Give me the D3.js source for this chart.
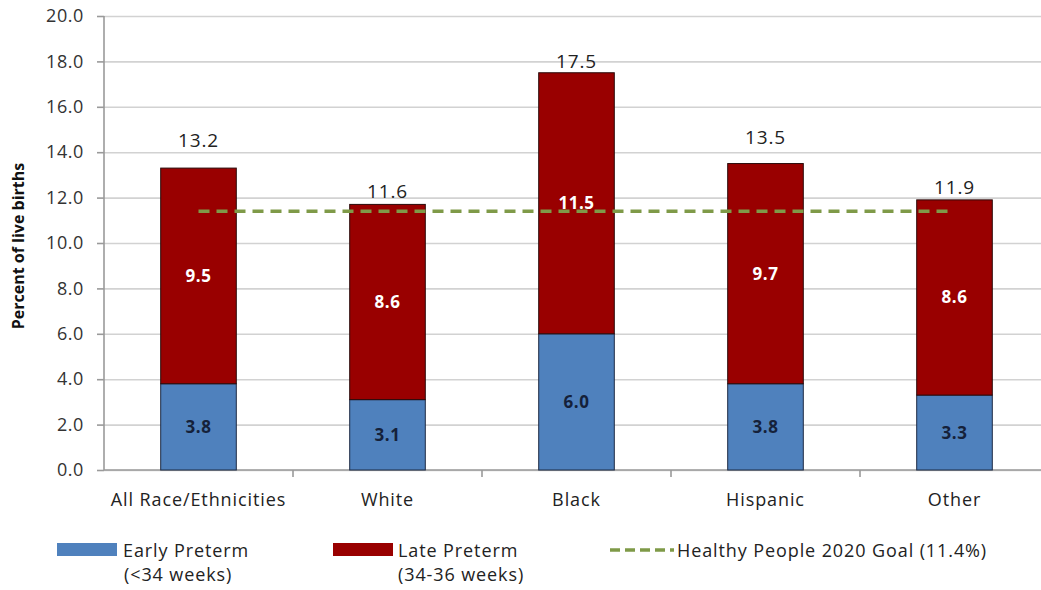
<!DOCTYPE html>
<html lang="en">
<head>
<meta charset="utf-8">
<title>Preterm births by race/ethnicity</title>
<script src="https://cdn.jsdelivr.net/npm/d3@7/dist/d3.min.js"></script>
<style>
  body { margin: 0; background: #fff; }
  svg text { font-family: "Open Sans", "DejaVu Sans", sans-serif; }
</style>
</head>
<body>
<svg width="1041" height="590"></svg>
<script>
// data
var categories = ["All Race/Ethnicities", "White", "Black", "Hispanic", "Other"];
var earlyPreterm = [3.8, 3.1, 6.0, 3.8, 3.3];
var latePreterm = [9.5, 8.6, 11.5, 9.7, 8.6];
var totalLabels = ["13.2", "11.6", "17.5", "13.5", "11.9"];
var goal = 11.4;
var yTicks = [0, 2, 4, 6, 8, 10, 12, 14, 16, 18, 20];

// layout only: how far above each bar top the total label baseline sits (px)
var totalLabelGap = [21, 6, 5, 20, 6];

var svg = d3.select("svg");
var plotLeft = 104, plotRight = 1049, plotTop = 16, plotBottom = 470;

var x = d3.scaleBand()
    .domain(categories)
    .range([plotLeft, plotRight])
    .paddingInner(0.6)
    .paddingOuter(0.3);

var y = d3.scaleLinear().domain([0, 20]).range([plotBottom, plotTop]);

// gridlines
svg.append("g")
    .attr("transform", "translate(" + plotLeft + ",0)")
    .call(d3.axisLeft(y).tickValues(yTicks).tickSize(-(plotRight - plotLeft)).tickFormat(""))
    .call(function(g) {
        g.select(".domain").remove();
        g.selectAll("line").attr("stroke", "#d2d2d2").attr("stroke-width", 1.6);
    });

// y axis
svg.append("g")
    .attr("transform", "translate(" + plotLeft + ",0)")
    .call(d3.axisLeft(y).tickValues(yTicks).tickSize(7).tickPadding(13).tickFormat(d3.format(".1f")))
    .call(function(g) {
        g.select(".domain").attr("stroke", "#9a9a9a").attr("stroke-width", 1.6).attr("d", "M0," + plotTop + "V" + plotBottom);
        g.selectAll("line").attr("stroke", "#9a9a9a").attr("stroke-width", 1.6);
        g.selectAll("text").attr("font-size", 18).attr("fill", "#333")
            .attr("letter-spacing", 0.6)
            .style("font-family", "'Open Sans', sans-serif");
    });

// x axis baseline and category separators
var step = x.step();
svg.append("line")
    .attr("x1", plotLeft).attr("x2", plotRight)
    .attr("y1", plotBottom).attr("y2", plotBottom)
    .attr("stroke", "#9a9a9a").attr("stroke-width", 1.6);
svg.append("g").selectAll("line")
    .data(d3.range(1, categories.length + 1))
    .enter().append("line")
    .attr("x1", function(i) { return plotLeft + i * step; })
    .attr("x2", function(i) { return plotLeft + i * step; })
    .attr("y1", plotBottom).attr("y2", plotBottom + 7)
    .attr("stroke", "#9a9a9a").attr("stroke-width", 1.6);

svg.append("g").selectAll("text")
    .data(categories)
    .enter().append("text")
    .attr("x", function(d) { return x(d) + x.bandwidth() / 2; })
    .attr("y", 506)
    .attr("text-anchor", "middle")
    .attr("font-size", 18)
    .attr("letter-spacing", 0.9)
    .attr("fill", "#222")
    .text(function(d) { return d; });

// y title
svg.append("text")
    .attr("transform", "translate(24," + 246 + ") rotate(-90)")
    .attr("text-anchor", "middle")
    .attr("font-size", 16)
    .attr("font-weight", "bold")
    .attr("fill", "#111")
    .text("Percent of live births");

// stacked bars
var rows = categories.map(function(c, i) {
    return { cat: c, early: earlyPreterm[i], late: latePreterm[i], total: totalLabels[i], gap: totalLabelGap[i] };
});

var bars = svg.append("g");
bars.selectAll("rect.early")
    .data(rows)
    .enter().append("rect")
    .attr("class", "early")
    .attr("x", function(d) { return x(d.cat); })
    .attr("y", function(d) { return y(d.early); })
    .attr("width", x.bandwidth())
    .attr("height", function(d) { return y(0) - y(d.early); })
    .attr("fill", "#4f81bd")
    .attr("stroke", "#1d2a44")
    .attr("stroke-width", 1);

bars.selectAll("rect.late")
    .data(rows)
    .enter().append("rect")
    .attr("class", "late")
    .attr("x", function(d) { return x(d.cat); })
    .attr("y", function(d) { return y(d.early + d.late); })
    .attr("width", x.bandwidth())
    .attr("height", function(d) { return y(d.early) - y(d.early + d.late); })
    .attr("fill", "#990000")
    .attr("stroke", "#2a0a0a")
    .attr("stroke-width", 1);

// goal line across category centres
svg.append("line")
    .attr("x1", x(categories[0]) + x.bandwidth() / 2)
    .attr("x2", x(categories[categories.length - 1]) + x.bandwidth() / 2)
    .attr("y1", y(goal)).attr("y2", y(goal))
    .attr("stroke", "#7f9a48")
    .attr("stroke-width", 3.5)
    .attr("stroke-dasharray", "11,7");

// segment labels
bars.selectAll("text.early")
    .data(rows)
    .enter().append("text")
    .attr("x", function(d) { return x(d.cat) + x.bandwidth() / 2; })
    .attr("y", function(d) { return (y(0) + y(d.early)) / 2 + 6; })
    .attr("text-anchor", "middle")
    .attr("font-size", 17)
    .attr("font-weight", "bold")
    .attr("letter-spacing", 0.5)
    .attr("fill", "#15213a")
    .text(function(d) { return d.early.toFixed(1); });

bars.selectAll("text.late")
    .data(rows)
    .enter().append("text")
    .attr("x", function(d) { return x(d.cat) + x.bandwidth() / 2; })
    .attr("y", function(d) { return (y(d.early) + y(d.early + d.late)) / 2 + 6; })
    .attr("text-anchor", "middle")
    .attr("font-size", 17)
    .attr("font-weight", "bold")
    .attr("letter-spacing", 0.5)
    .attr("fill", "#fff")
    .text(function(d) { return d.late.toFixed(1); });

// totals
bars.selectAll("text.total")
    .data(rows)
    .enter().append("text")
    .attr("x", function(d) { return x(d.cat) + x.bandwidth() / 2; })
    .attr("y", function(d) { return y(d.early + d.late) - d.gap; })
    .attr("text-anchor", "middle")
    .attr("font-size", 19)
    .attr("letter-spacing", 0.8)
    .attr("fill", "#222")
    .text(function(d) { return d.total; });

// legend
var legend = svg.append("g").attr("font-size", 18).attr("letter-spacing", 0.9).attr("fill", "#222");
legend.append("rect").attr("x", 57).attr("y", 543).attr("width", 60).attr("height", 13).attr("fill", "#4f81bd");
legend.append("text").attr("x", 123).attr("y", 557).text("Early Preterm");
legend.append("text").attr("x", 124).attr("y", 581).text("(<34 weeks)");

legend.append("rect").attr("x", 333).attr("y", 543).attr("width", 60).attr("height", 13).attr("fill", "#990000");
legend.append("text").attr("x", 398).attr("y", 557).text("Late Preterm");
legend.append("text").attr("x", 398).attr("y", 581).text("(34-36 weeks)");

legend.append("line").attr("x1", 610).attr("x2", 674).attr("y1", 550).attr("y2", 550)
    .attr("stroke", "#7f9a48").attr("stroke-width", 3.5).attr("stroke-dasharray", "10,5");
legend.append("text").attr("x", 677).attr("y", 557).text("Healthy People 2020 Goal (11.4%)");
</script>
</body>
</html>
